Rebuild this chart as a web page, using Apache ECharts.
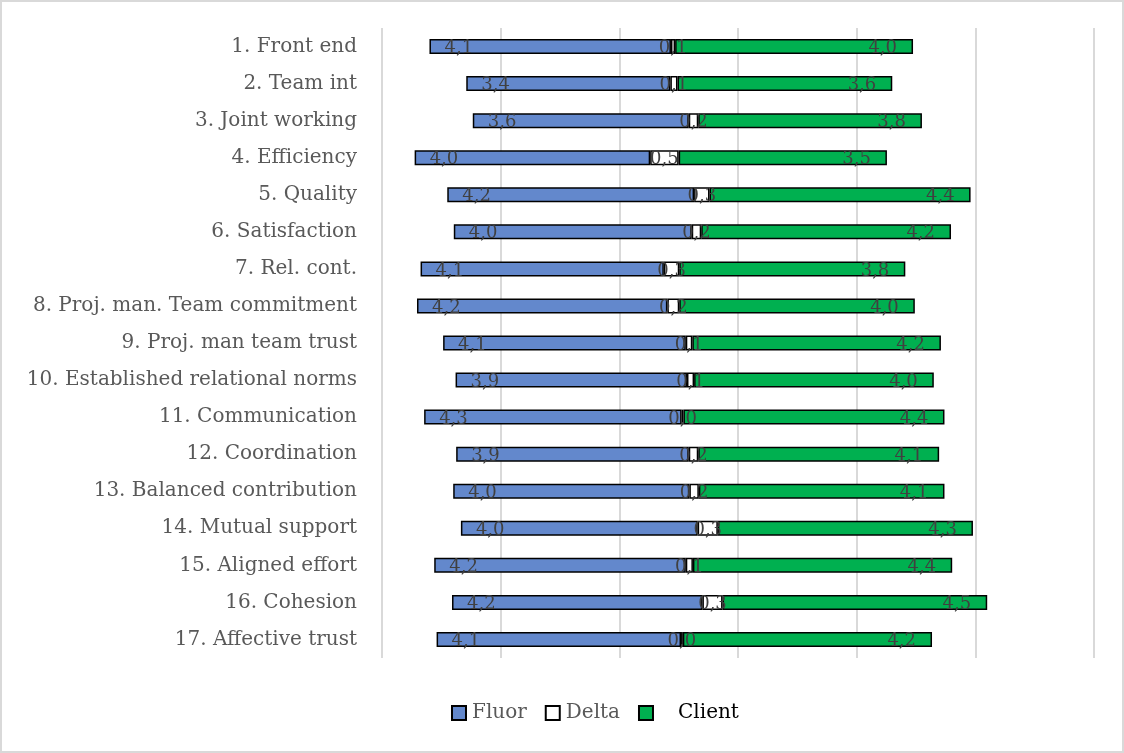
<!DOCTYPE html>
<html>
<head>
<meta charset="utf-8">
<title>Fluor vs Client</title>
<script src="https://cdn.jsdelivr.net/npm/echarts@6/dist/echarts.min.js"></script>
<style>
  html, body { margin: 0; padding: 0; background: #ffffff; }
  #chart { width: 1124px; height: 753px; }
</style>
</head>
<body>
<div id="chart"></div>
<script>
// Criteria shown top to bottom
const categories = [
  '1. Front end',
  '2. Team int',
  '3. Joint working',
  '4. Efficiency',
  '5. Quality',
  '6. Satisfaction',
  '7. Rel. cont.',
  '8. Proj. man. Team commitment',
  '9. Proj. man team trust',
  '10. Established relational norms',
  '11. Communication',
  '12. Coordination',
  '13. Balanced contribution',
  '14. Mutual support',
  '15. Aligned effort',
  '16. Cohesion',
  '17. Affective trust'
];

// Invisible lead-in that shifts each row so the bars line up around the middle
const offsetValues = [0.80, 1.42, 1.53, 0.55, 1.10, 1.21, 0.65, 0.59, 1.03, 1.24, 0.71, 1.25, 1.20, 1.33, 0.88, 1.18, 0.92];

// Mean scores
const fluorValues  = [4.07, 3.44, 3.64, 3.97, 4.16, 4.01, 4.10, 4.22, 4.09, 3.90, 4.34, 3.92, 3.98, 3.99, 4.24, 4.22, 4.12];
const deltaValues  = [0.07, 0.12, 0.16, 0.48, 0.26, 0.16, 0.26, 0.20, 0.11, 0.12, 0.03, 0.16, 0.16, 0.34, 0.12, 0.34, 0.03];
const clientValues = [4.01, 3.62, 3.77, 3.51, 4.40, 4.21, 3.81, 3.97, 4.19, 4.04, 4.40, 4.06, 4.14, 4.30, 4.37, 4.46, 4.20];

// Value axis ticks
const axisMin = 0;
const axisMax = 12;
const axisStep = 2;

const serif = "'DejaVu Serif', 'Liberation Serif', serif";
const fmt = p => p.value.toFixed(1).replace('.', ',');

const labelBase = {
  show: true,
  formatter: fmt,
  fontFamily: serif,
  fontSize: 18,
  color: '#404040',
  offset: [0, 2]
};

const chart = echarts.init(document.getElementById('chart'), null, { renderer: 'canvas' });

chart.setOption({
  animation: false,
  backgroundColor: '#ffffff',
  graphic: [{
    type: 'rect',
    silent: true,
    shape: { x: 1, y: 1, width: 1122, height: 751 },
    style: { fill: 'none', stroke: '#d9d9d9', lineWidth: 2 }
  }],
  grid: { left: 382, right: 30, top: 28, bottom: 95, containLabel: false },
  legend: {
    left: 446,
    top: 698,
    itemWidth: 14,
    itemHeight: 14,
    itemGap: 18,
    icon: 'rect',
    textStyle: { fontFamily: serif, fontSize: 20, color: '#595959', padding: [0, 0, 0, 1] },
    formatter: name => (name === 'Client' ? '   Client' : name),
    data: [
      { name: 'Fluor' },
      { name: 'Delta' },
      { name: 'Client', textStyle: { color: '#000000' } }
    ]
  },
  xAxis: {
    type: 'value',
    min: axisMin,
    max: axisMax,
    interval: axisStep,
    axisLabel: { show: false },
    axisLine: { show: false },
    axisTick: { show: false },
    splitLine: { show: true, lineStyle: { color: '#d9d9d9', width: 2 } }
  },
  yAxis: {
    type: 'category',
    data: categories,
    inverse: true,
    axisLine: { show: false },
    axisTick: { show: false },
    axisLabel: {
      margin: 25,
      fontFamily: serif,
      fontSize: 20,
      color: '#595959'
    }
  },
  series: [
    {
      name: 'offset',
      type: 'bar',
      stack: 'total',
      barWidth: 15,
      silent: true,
      itemStyle: { color: 'rgba(0,0,0,0)', borderWidth: 0 },
      emphasis: { disabled: true },
      data: offsetValues
    },
    {
      name: 'Fluor',
      type: 'bar',
      stack: 'total',
      barWidth: 15,
      itemStyle: { color: '#6388cc', borderColor: '#000000', borderWidth: 1.5 },
      label: Object.assign({}, labelBase, { position: 'insideLeft', distance: 15 }),
      data: fluorValues
    },
    {
      name: 'Delta',
      type: 'bar',
      stack: 'total',
      barWidth: 15,
      itemStyle: { color: '#ffffff', borderColor: '#000000', borderWidth: 1.5 },
      label: Object.assign({}, labelBase, { position: 'inside' }),
      data: deltaValues
    },
    {
      name: 'Client',
      type: 'bar',
      stack: 'total',
      barWidth: 15,
      itemStyle: { color: '#00b050', borderColor: '#000000', borderWidth: 1.5 },
      label: Object.assign({}, labelBase, { position: 'insideRight', distance: 16 }),
      data: clientValues
    }
  ]
});
</script>
</body>
</html>
